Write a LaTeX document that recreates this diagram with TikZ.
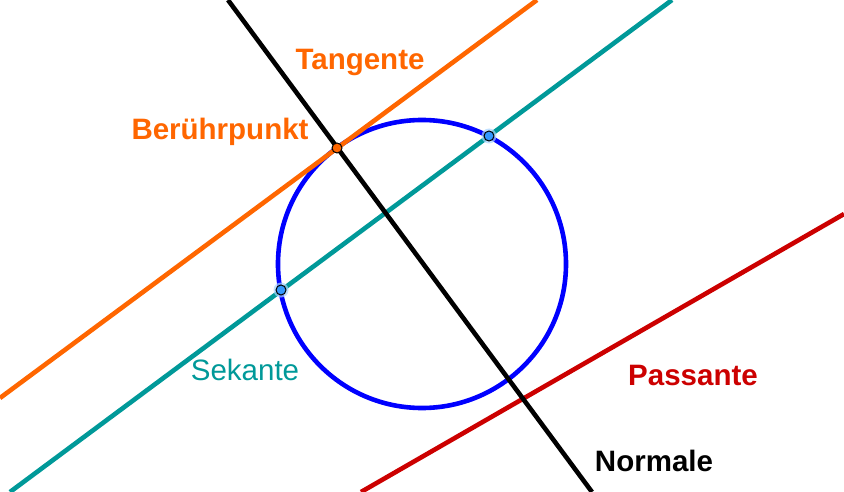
\documentclass[tikz,border=0pt]{standalone}
\usepackage{fontspec}
\setmainfont{Liberation Sans}
\definecolor{tangcol}{HTML}{FF6600}
\definecolor{sekcol}{HTML}{009999}
\definecolor{circcol}{HTML}{0000FF}
\definecolor{passcol}{HTML}{CC0000}
\definecolor{ptblue}{HTML}{3399FF}
\definecolor{halo}{HTML}{A8D4FF}
\tikzset{
  geoline/.style={line width=4.6pt},
  lbl/.style={anchor=base, inner sep=0pt, font=\fontsize{29.5}{34}\selectfont\bfseries},
  lblreg/.style={anchor=base, inner sep=0pt, font=\fontsize{29.5}{34}\selectfont},
  ptdot/.style={circle, draw=black, line width=1pt, minimum size=10pt, inner sep=0pt},
}
\begin{document}
\begin{tikzpicture}[x=1pt,y=-1pt]
\useasboundingbox (0,0) rectangle (844,492);
% named coordinates
\coordinate (M) at (422,264);
\coordinate (normA) at (228,0);
\coordinate (normB) at (592,492);
\coordinate (tanA) at (0,398);
\coordinate (tanB) at (537,0);
\coordinate (sekA) at (10,492);
\coordinate (sekB) at (672,0);
\coordinate (pasA) at (361,492);
\coordinate (pasB) at (844,214);
% lines
\draw[geoline, sekcol] (sekA) -- (sekB);
\draw[geoline, circcol] (M) circle[radius=144];
\draw[geoline, passcol] (pasA) -- (pasB);
\draw[geoline, black] (normA) -- (normB);
\draw[geoline, tangcol] (tanA) -- (tanB);
% points
\fill[halo, opacity=0.7] (489,136) circle[radius=7.5];
\fill[halo, opacity=0.7] (281,290) circle[radius=7.5];
\node[ptdot, fill=ptblue] (S1) at (489,136) {};
\node[ptdot, fill=ptblue] (S2) at (281,290) {};
\node[ptdot, fill=tangcol] (T) at (337,148) {};
% labels
\node[lbl, text=tangcol] (lTan) at (360,70) {Tangente};
\node[lbl, text=tangcol] (lBer) at (220,140) {Berührpunkt};
\node[lblreg, text=sekcol] (lSek) at (245,380) {Sekante};
\node[lbl, text=passcol] (lPas) at (693,385) {Passante};
\node[lbl, text=black] (lNor) at (654,471) {Normale};
\end{tikzpicture}
\end{document}
